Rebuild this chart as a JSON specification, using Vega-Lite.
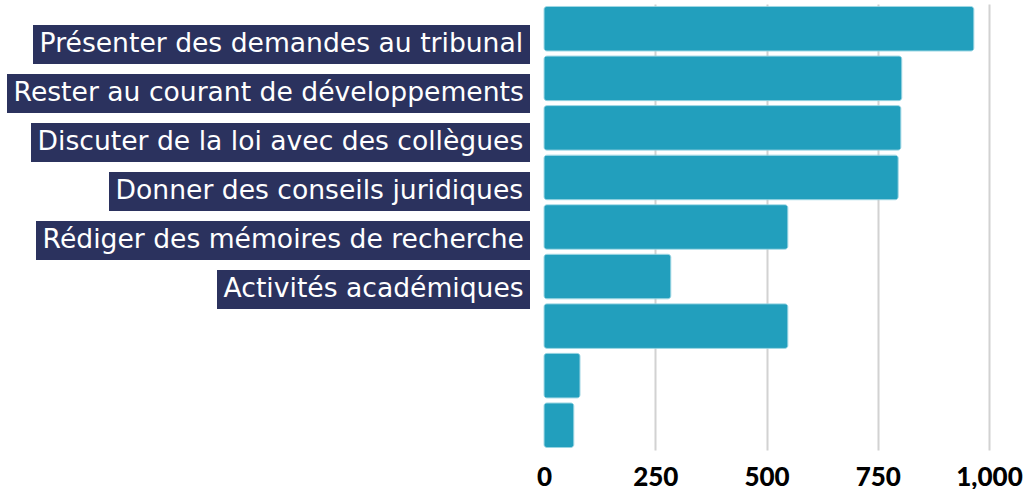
{
  "$schema": "https://vega.github.io/schema/vega-lite/v6.json",
  "padding": {"left": 7, "top": 4, "right": 0, "bottom": 0},
  "background": "white",
  "config": {
    "view": {"stroke": null},
    "legend": {
      "orient": "left",
      "offset": -6,
      "padding": 6,
      "fillColor": "#2b325e",
      "labelColor": "#ffffff",
      "labelFont": "DejaVu Sans",
      "labelFontSize": 26.6,
      "labelAlign": "left",
      "labelLimit": 2000,
      "labelOffset": -26,
      "symbolSize": 0,
      "symbolOpacity": 0,
      "symbolStrokeWidth": 0
    }
  },
  "datasets": {
    "activites": [
      {"ordre": 1, "activite": "Présenter des demandes au tribunal", "valeur": 966},
      {"ordre": 2, "activite": "Rester au courant de développements", "valeur": 804},
      {"ordre": 3, "activite": "Discuter de la loi avec des collègues", "valeur": 802},
      {"ordre": 4, "activite": "Donner des conseils juridiques", "valeur": 796},
      {"ordre": 5, "activite": "Rédiger des mémoires de recherche", "valeur": 548},
      {"ordre": 6, "activite": "Activités académiques", "valeur": 285},
      {"ordre": 7, "activite": "", "valeur": 548},
      {"ordre": 8, "activite": "", "valeur": 81},
      {"ordre": 9, "activite": "", "valeur": 67}
    ]
  },
  "spacing": 6,
  "resolve": {"scale": {"color": "independent"}, "legend": {"color": "independent"}},
  "hconcat": [
    {
      "spacing": 1,
      "resolve": {"scale": {"color": "independent"}, "legend": {"color": "independent"}},
      "vconcat": [
        {"width": 1, "height": 20, "data": {"name": "activites"}, "transform": [{"filter": "false"}], "mark": {"type": "point", "size": 0, "opacity": 0}},
        {"width": 1, "height": 47.6, "data": {"name": "activites"}, "transform": [{"filter": "datum.ordre == 1"}], "mark": {"type": "point", "size": 0, "opacity": 0},
         "encoding": {"color": {"field": "activite", "type": "nominal", "scale": {"range": ["#229fbd"]}, "legend": {"title": null}}}},
        {"width": 1, "height": 47.6, "data": {"name": "activites"}, "transform": [{"filter": "datum.ordre == 2"}], "mark": {"type": "point", "size": 0, "opacity": 0},
         "encoding": {"color": {"field": "activite", "type": "nominal", "scale": {"range": ["#229fbd"]}, "legend": {"title": null}}}},
        {"width": 1, "height": 47.6, "data": {"name": "activites"}, "transform": [{"filter": "datum.ordre == 3"}], "mark": {"type": "point", "size": 0, "opacity": 0},
         "encoding": {"color": {"field": "activite", "type": "nominal", "scale": {"range": ["#229fbd"]}, "legend": {"title": null}}}},
        {"width": 1, "height": 47.6, "data": {"name": "activites"}, "transform": [{"filter": "datum.ordre == 4"}], "mark": {"type": "point", "size": 0, "opacity": 0},
         "encoding": {"color": {"field": "activite", "type": "nominal", "scale": {"range": ["#229fbd"]}, "legend": {"title": null}}}},
        {"width": 1, "height": 47.6, "data": {"name": "activites"}, "transform": [{"filter": "datum.ordre == 5"}], "mark": {"type": "point", "size": 0, "opacity": 0},
         "encoding": {"color": {"field": "activite", "type": "nominal", "scale": {"range": ["#229fbd"]}, "legend": {"title": null}}}},
        {"width": 1, "height": 47.6, "data": {"name": "activites"}, "transform": [{"filter": "datum.ordre == 6"}], "mark": {"type": "point", "size": 0, "opacity": 0},
         "encoding": {"color": {"field": "activite", "type": "nominal", "scale": {"range": ["#229fbd"]}, "legend": {"title": null}}}}
      ]
    },
    {
      "width": 445,
      "height": 446,
      "data": {"name": "activites"},
      "mark": {"type": "bar", "color": "#229fbd", "cornerRadius": 3, "stroke": "#8fd0df", "strokeWidth": 0.8},
      "encoding": {
        "y": {
          "field": "ordre",
          "type": "ordinal",
          "axis": null,
          "scale": {"paddingInner": 0.1, "paddingOuter": 0.05}
        },
        "x": {
          "field": "valeur",
          "type": "quantitative",
          "scale": {"domain": [0, 1000]},
          "axis": {
            "title": null,
            "values": [0, 250, 500, 750, 1000],
            "format": ",d",
            "grid": true,
            "gridColor": {"condition": {"test": "datum.value === 0", "value": "transparent"}, "value": "#d2d2d2"},
            "gridWidth": 2,
            "domain": false,
            "ticks": false,
            "labelFlush": false,
            "labelFont": "Lato",
            "labelFontWeight": 900,
            "labelFontSize": 26,
            "labelColor": "#000000",
            "labelPadding": 14
          }
        }
      }
    }
  ]
}
